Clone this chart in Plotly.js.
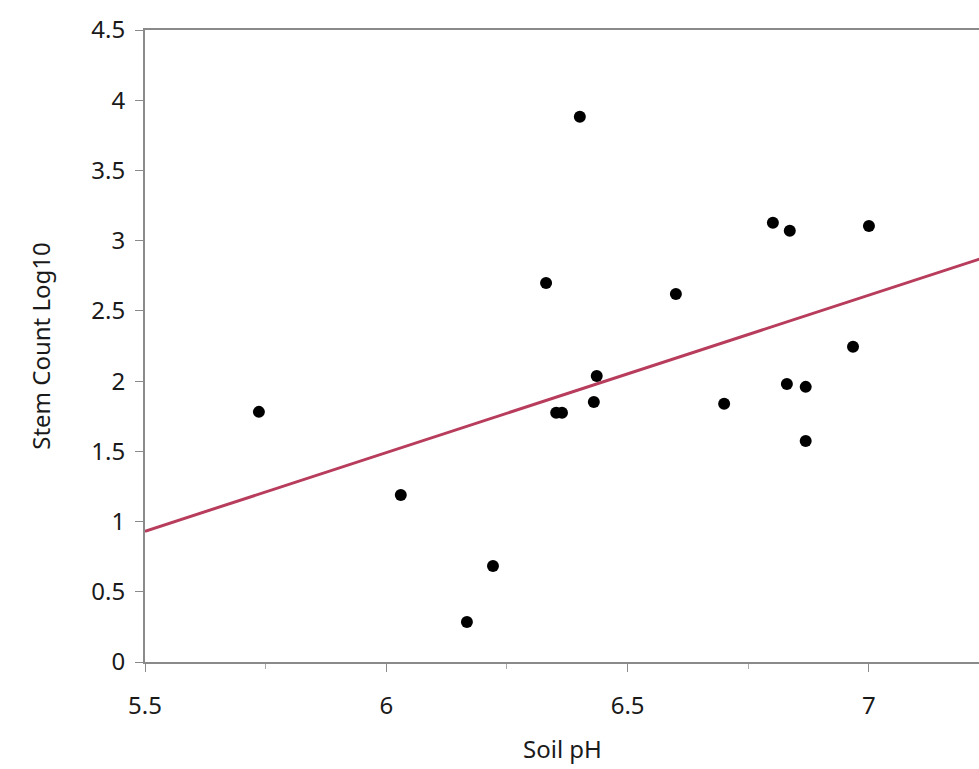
<!DOCTYPE html>
<html>
<head>
<meta charset="utf-8">
<script src="https://cdn.plot.ly/plotly-3.0.1.min.js"></script>
<style>html,body{margin:0;padding:0;background:#fff;overflow:hidden;}#wrap{width:979px;height:769px;overflow:hidden;}#chart{width:992px;height:769px;}</style>
</head>
<body>
<div id="wrap"><div id="chart"></div></div>
<script>
var soilPH = [5.736, 6.030, 6.167, 6.221, 6.331, 6.401, 6.352, 6.364, 6.430, 6.436, 6.600, 6.700, 6.801, 6.836, 6.830, 6.869, 6.869, 6.967, 7.000];
var stemLog10 = [1.781, 1.189, 0.285, 0.684, 2.699, 3.882, 1.774, 1.774, 1.852, 2.037, 2.621, 1.838, 3.127, 3.070, 1.980, 1.959, 1.574, 2.244, 3.105];
var xRange = [5.5, 7.255];
var yRange = [0, 4.5];

// least-squares fit from the data
var n = soilPH.length, mx = 0, my = 0;
for (var i = 0; i < n; i++) { mx += soilPH[i]; my += stemLog10[i]; }
mx /= n; my /= n;
var sxy = 0, sxx = 0;
for (var i = 0; i < n; i++) { sxy += (soilPH[i]-mx)*(stemLog10[i]-my); sxx += (soilPH[i]-mx)*(soilPH[i]-mx); }
var slope = sxy/sxx, intercept = my - slope*mx;
var fitX = [xRange[0], xRange[1]];
var fitY = fitX.map(function(v){ return intercept + slope*v; });

var font = "'Noto Sans', 'Open Sans', sans-serif";
var traces = [
  {x: fitX, y: fitY, mode: 'lines', type: 'scatter', line: {color: '#b83c5c', width: 3}, hoverinfo: 'skip'},
  {x: soilPH, y: stemLog10, mode: 'markers', type: 'scatter', marker: {color: '#000', size: 12}}
];
var layout = {
  width: 992, height: 769,
  margin: {l: 145, r: 0, t: 30, b: 107},
  paper_bgcolor: '#fff', plot_bgcolor: '#fff',
  showlegend: false,
  font: {family: font, size: 24, color: '#1a1a1a'},
  xaxis: {
    range: xRange, tickvals: [5.5, 6, 6.5, 7], ticktext: ['5.5', '6', '6.5', '7'],
    showgrid: false, zeroline: false, showline: true, linecolor: '#8a8a8a', linewidth: 2, mirror: true,
    ticks: 'outside', ticklen: 8, tickcolor: '#8a8a8a', tickwidth: 1,
    minor: {tickvals: [5.75, 6.25, 6.75], ticks: 'outside', ticklen: 5, tickcolor: '#aaa'},
    ticklabelstandoff: 13,
    tickfont: {size: 24, color: '#1a1a1a'},
    title: {text: '', font: {size: 24, color: '#1a1a1a'}, standoff: 12}
  },
  yaxis: {
    range: yRange, dtick: 0.5, tick0: 0,
    showgrid: false, zeroline: false, showline: true, linecolor: '#8a8a8a', linewidth: 2,
    ticks: 'outside', ticklen: 8, tickcolor: '#8a8a8a', tickwidth: 1,
    ticklabelstandoff: 5,
    tickfont: {size: 24, color: '#1a1a1a'},
    title: {text: 'Stem Count Log10', font: {size: 24, color: '#1a1a1a'}, standoff: 34}
  },
  annotations: [{
    text: 'Soil pH', xref: 'paper', yref: 'paper', x: 0.5, y: 0, yshift: -86,
    xanchor: 'center', yanchor: 'middle', showarrow: false,
    font: {size: 24, color: '#1a1a1a'}
  }]
};
// center the x title on the visible part of the plot (145..979 px)
layout.annotations[0].x = ((979 - 145) / 2) / (992 - 145);
Plotly.newPlot('chart', traces, layout, {displayModeBar: false, staticPlot: true});
</script>
</body>
</html>
